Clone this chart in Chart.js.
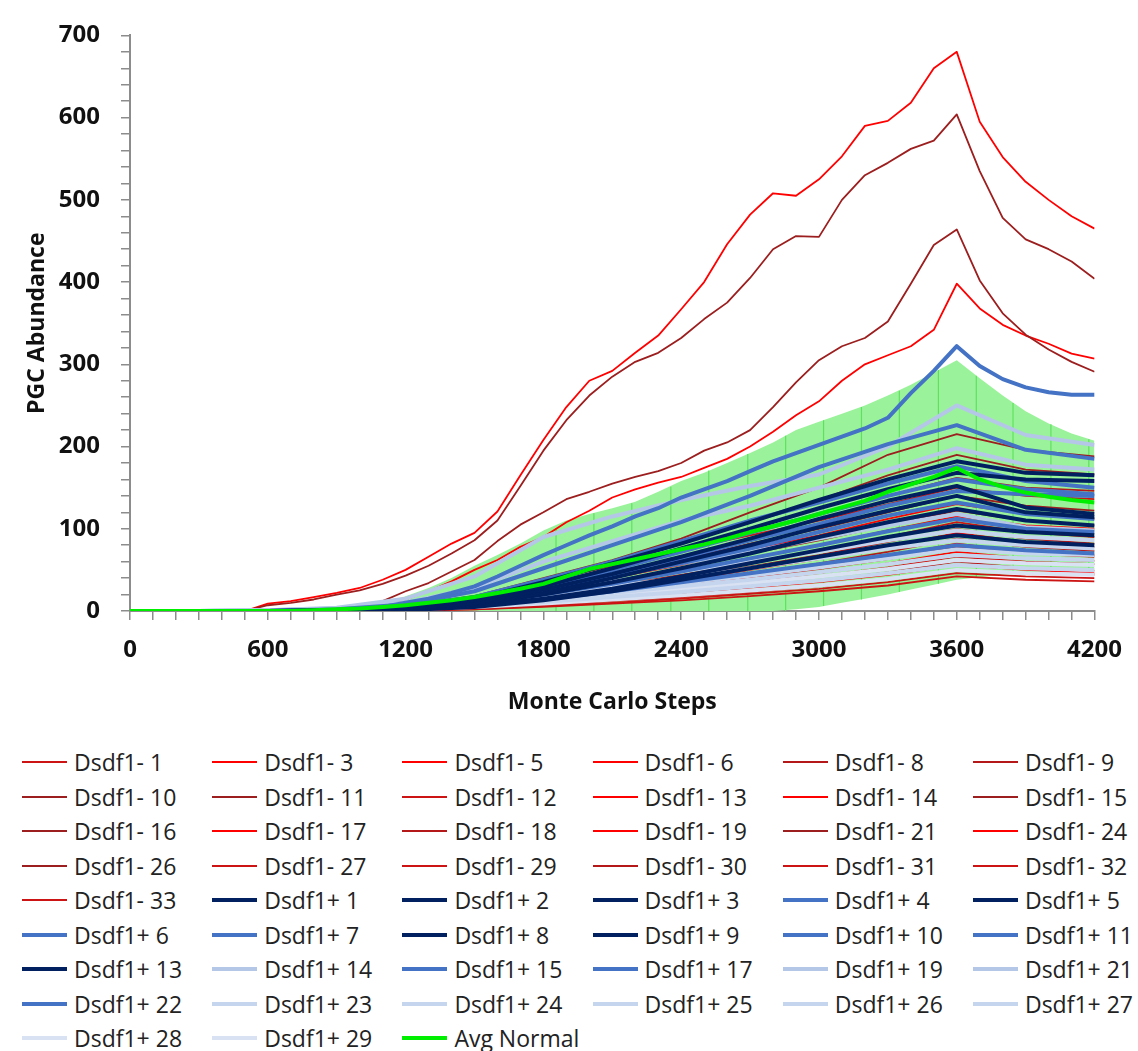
<!DOCTYPE html>
<html>
<head>
<meta charset="utf-8">
<script src="https://cdn.jsdelivr.net/npm/chart.js@4.4.0/dist/chart.umd.min.js"></script>
<style>
  body { margin: 0; background: #fff; }
  #wrap { position: relative; width: 1138px; height: 1051px; }
  #chart { position: absolute; left: 0; top: 0; }
  #legend {
    position: absolute; left: 22px; top: 745px;
    display: grid; grid-template-columns: repeat(6, 190.2px); grid-auto-rows: 34.5px;
    font-family: 'Open Sans', sans-serif; font-size: 23px; color: #222;
  }
  .item { display: flex; align-items: center; white-space: pre; }
  .swatch { width: 45px; margin-right: 7px; }
</style>
</head>
<body>
<div id="wrap">
  <canvas id="chart" width="1138" height="730" style="width:1138px;height:730px"></canvas>
  <div id="legend"></div>
</div>
<script>
// Monte Carlo steps (fine grid for the lines that stand out, coarse grid for the bundle)
const steps = [0,100,200,300,400,500,600,700,800,900,1000,1100,1200,1300,1400,1500,1600,1700,1800,1900,2000,
  2100,2200,2300,2400,2500,2600,2700,2800,2900,3000,3100,3200,3300,3400,3500,3600,3700,3800,3900,4000,4100,4200];
const stepsCoarse = [0,300,600,900,1200,1500,1800,2100,2400,2700,3000,3300,3600,3900,4200];

// top lines, read on the fine grid
const neg17 = [0,0,0,0,0,0,9,12,17,22,28,38,50,66,82,95,121,165,208,248,280,292,314,335,367,400,446,482,508,505,525,553,590,596,618,660,680,595,552,522,500,480,465];
const neg10 = [0,0,0,0,0,0,7,10,14,20,25,33,43,55,70,86,110,152,195,232,262,285,303,314,332,355,375,405,440,456,455,500,530,545,562,572,604,535,478,452,440,425,404];
const neg16 = [0,0,0,0,0,0,0,0,0,0,3,12,24,34,48,62,85,105,120,136,145,155,163,170,180,195,205,220,248,278,305,322,332,352,398,445,464,402,362,336,318,303,291];
const neg19 = [0,0,0,0,0,0,0,0,0,0,0,5,14,24,36,50,62,78,90,108,122,138,148,156,163,174,185,200,218,238,255,280,300,311,322,342,398,368,348,335,325,313,307];
const pos4  = [0,0,0,0,0,0,0,0,0,0,2,5,10,15,22,30,42,55,68,80,92,103,115,125,138,148,158,170,182,192,202,212,222,235,265,292,322,298,282,272,266,263,263];
const avgNormal = [0,0,0,0,0,0,0,0,1,2,3,5,7,10,13,17,22,27,33,42,51,57,63,69,75,81,88,96,103,110,118,126,134,145,154,163,174,160,151,144,139,135,132];
const avgUpper  = [0,0,0,0,0,0,0,0,2,4,6,10,18,28,40,55,68,82,98,110,118,125,133,145,158,168,180,192,205,220,230,240,250,262,275,290,305,283,262,243,228,216,207];
const avgLower  = [0,0,0,0,0,0,0,0,0,0,0,0,0,0,0,0,0,0,0,0,0,0,0,0,0,0,0,0,0,2,5,10,15,20,26,32,38,41,44,46,48,50,51];

// error bars of Avg Normal
const errSteps = [1855,2020,2185,2355,2520,2690,2855,3020,3185,3350,3520,3685,3845,4010,4175];
const errHigh  = [100,119,131,151,171,191,213,232,248,268,293,286,253,227,209];
const errLow   = [0,0,0,0,0,0,0,6,14,23,33,40,45,48,51];

// the bundle, read on the coarse grid
const neg1  = [0,0,0,2,7,18,36,55,74,92,110,130,150,140,136];
const neg3  = [0,0,0,1,4,11,24,40,56,74,92,112,130,118,112];
const neg5  = [0,0,0,1,3,9,20,33,48,64,80,98,115,104,100];
const neg6  = [0,0,0,0,2,6,14,25,37,50,63,78,95,84,78];
const neg8  = [0,0,0,1,4,14,32,52,74,96,118,140,162,150,146];
const neg9  = [0,0,0,1,2,6,14,24,34,46,58,72,88,78,73];
const neg11 = [0,0,0,2,6,18,40,62,88,120,150,190,215,196,188];
const neg12 = [0,0,0,0,2,7,17,30,44,58,74,90,108,96,90];
const neg13 = [0,0,0,0,1,4,11,20,30,42,54,67,82,72,68];
const neg14 = [0,0,0,0,1,4,10,18,27,36,46,58,72,64,61];
const neg15 = [0,0,0,0,3,10,25,42,62,82,100,120,140,128,122];
const neg18 = [0,0,0,0,1,3,8,14,21,29,37,47,60,52,49];
const neg21 = [0,0,0,1,5,15,35,58,82,108,135,165,190,172,166];
const neg24 = [0,0,0,0,1,4,9,15,21,28,35,44,56,50,46];
const neg26 = [0,0,0,0,2,8,20,35,52,70,86,104,122,110,104];
const neg27 = [0,0,0,1,3,7,14,22,31,41,51,63,78,70,66];
const neg29 = [0,0,0,0,1,3,7,12,17,23,30,39,50,46,44];
const neg30 = [0,0,0,1,3,8,18,29,41,54,68,84,100,88,82];
const neg31 = [0,0,0,1,2,5,11,17,25,33,42,53,66,60,57];
const neg32 = [0,0,0,0,1,2,6,10,15,21,27,35,46,42,40];
const neg33 = [0,0,0,0,0,2,5,9,13,18,24,31,42,38,36];

const pos1  = [0,0,0,1,5,15,35,58,82,108,135,160,182,168,165];
const pos2  = [0,0,0,1,4,13,30,52,76,100,125,148,168,160,158];
const pos3  = [0,0,0,0,3,10,26,45,66,88,112,134,152,126,118];
const pos5  = [0,0,0,0,3,9,22,40,60,80,102,122,140,120,114];
const pos6  = [0,0,0,2,8,24,52,80,108,140,175,203,226,196,185];
const pos7  = [0,0,0,1,6,17,38,60,85,110,132,155,176,158,150];
const pos8  = [0,0,0,0,2,8,20,35,52,70,90,108,124,110,104];
const pos9  = [0,0,0,0,2,6,15,27,42,58,74,90,104,96,92];
const pos10 = [0,0,0,1,5,14,32,50,72,95,118,140,160,148,142];
const pos11 = [0,0,0,1,4,12,28,46,64,86,106,128,146,142,140];
const pos13 = [0,0,0,0,1,5,13,24,38,52,66,80,92,84,80];
const pos14 = [0,0,1,4,15,42,90,115,135,152,166,200,250,214,202];
const pos15 = [0,0,0,1,4,11,25,42,58,76,96,116,132,118,112];
const pos17 = [0,0,0,1,3,9,20,33,48,64,80,97,112,100,96];
const pos19 = [0,0,1,3,10,28,60,85,110,128,150,172,198,178,172];
const pos21 = [0,0,1,2,6,15,30,44,58,72,88,104,118,102,98];
const pos22 = [0,0,0,0,2,6,14,24,35,46,57,68,80,74,70];
const pos23 = [0,0,1,2,5,12,24,36,48,60,72,86,98,90,86];
const pos24 = [0,0,1,2,4,10,20,30,40,52,64,76,86,80,76];
const pos25 = [0,0,0,1,3,8,16,25,34,43,53,64,75,70,68];
const pos26 = [0,0,0,1,3,7,14,22,30,38,47,57,68,64,62];
const pos27 = [0,0,0,1,2,6,11,17,23,30,37,46,56,52,50];
const pos28 = [0,0,1,2,4,8,14,20,27,34,42,51,62,58,56];
const pos29 = [0,0,0,1,2,5,9,14,19,25,31,39,50,46,44];

// legend order, as in the figure
const legendNames = [
  'Dsdf1- 1','Dsdf1- 3','Dsdf1- 5','Dsdf1- 6','Dsdf1- 8','Dsdf1- 9',
  'Dsdf1- 10','Dsdf1- 11','Dsdf1- 12','Dsdf1- 13','Dsdf1- 14','Dsdf1- 15',
  'Dsdf1- 16','Dsdf1- 17','Dsdf1- 18','Dsdf1- 19','Dsdf1- 21','Dsdf1- 24',
  'Dsdf1- 26','Dsdf1- 27','Dsdf1- 29','Dsdf1- 30','Dsdf1- 31','Dsdf1- 32',
  'Dsdf1- 33','Dsdf1+ 1','Dsdf1+ 2','Dsdf1+ 3','Dsdf1+ 4','Dsdf1+ 5',
  'Dsdf1+ 6','Dsdf1+ 7','Dsdf1+ 8','Dsdf1+ 9','Dsdf1+ 10','Dsdf1+ 11',
  'Dsdf1+ 13','Dsdf1+ 14','Dsdf1+ 15','Dsdf1+ 17','Dsdf1+ 19','Dsdf1+ 21',
  'Dsdf1+ 22','Dsdf1+ 23','Dsdf1+ 24','Dsdf1+ 25','Dsdf1+ 26','Dsdf1+ 27',
  'Dsdf1+ 28','Dsdf1+ 29','Avg Normal'
];

// name -> [x grid, values]
const seriesData = {
  'Dsdf1- 1': [stepsCoarse, neg1], 'Dsdf1- 3': [stepsCoarse, neg3], 'Dsdf1- 5': [stepsCoarse, neg5],
  'Dsdf1- 6': [stepsCoarse, neg6], 'Dsdf1- 8': [stepsCoarse, neg8], 'Dsdf1- 9': [stepsCoarse, neg9],
  'Dsdf1- 10': [steps, neg10], 'Dsdf1- 11': [stepsCoarse, neg11], 'Dsdf1- 12': [stepsCoarse, neg12],
  'Dsdf1- 13': [stepsCoarse, neg13], 'Dsdf1- 14': [stepsCoarse, neg14], 'Dsdf1- 15': [stepsCoarse, neg15],
  'Dsdf1- 16': [steps, neg16], 'Dsdf1- 17': [steps, neg17], 'Dsdf1- 18': [stepsCoarse, neg18],
  'Dsdf1- 19': [steps, neg19], 'Dsdf1- 21': [stepsCoarse, neg21], 'Dsdf1- 24': [stepsCoarse, neg24],
  'Dsdf1- 26': [stepsCoarse, neg26], 'Dsdf1- 27': [stepsCoarse, neg27], 'Dsdf1- 29': [stepsCoarse, neg29],
  'Dsdf1- 30': [stepsCoarse, neg30], 'Dsdf1- 31': [stepsCoarse, neg31], 'Dsdf1- 32': [stepsCoarse, neg32],
  'Dsdf1- 33': [stepsCoarse, neg33],
  'Dsdf1+ 1': [stepsCoarse, pos1], 'Dsdf1+ 2': [stepsCoarse, pos2], 'Dsdf1+ 3': [stepsCoarse, pos3],
  'Dsdf1+ 4': [steps, pos4], 'Dsdf1+ 5': [stepsCoarse, pos5], 'Dsdf1+ 6': [stepsCoarse, pos6],
  'Dsdf1+ 7': [stepsCoarse, pos7], 'Dsdf1+ 8': [stepsCoarse, pos8], 'Dsdf1+ 9': [stepsCoarse, pos9],
  'Dsdf1+ 10': [stepsCoarse, pos10], 'Dsdf1+ 11': [stepsCoarse, pos11], 'Dsdf1+ 13': [stepsCoarse, pos13],
  'Dsdf1+ 14': [stepsCoarse, pos14], 'Dsdf1+ 15': [stepsCoarse, pos15], 'Dsdf1+ 17': [stepsCoarse, pos17],
  'Dsdf1+ 19': [stepsCoarse, pos19], 'Dsdf1+ 21': [stepsCoarse, pos21], 'Dsdf1+ 22': [stepsCoarse, pos22],
  'Dsdf1+ 23': [stepsCoarse, pos23], 'Dsdf1+ 24': [stepsCoarse, pos24], 'Dsdf1+ 25': [stepsCoarse, pos25],
  'Dsdf1+ 26': [stepsCoarse, pos26], 'Dsdf1+ 27': [stepsCoarse, pos27], 'Dsdf1+ 28': [stepsCoarse, pos28],
  'Dsdf1+ 29': [stepsCoarse, pos29], 'Avg Normal': [steps, avgNormal]
};

// colours
const BRIGHT = '#ff0000', MED = '#cc1414', MEDDARK = '#b41818', DARK = '#9c1e1e';
const NAVY = '#002060', MID = '#4472c4', LIGHT = '#b4c7e7', LIGHTER = '#c6d5ee', LIGHTEST = '#d9e2f3';
const GREEN = '#00ee00';
const seriesColor = {
  'Dsdf1- 1': MED, 'Dsdf1- 3': BRIGHT, 'Dsdf1- 5': BRIGHT, 'Dsdf1- 6': BRIGHT, 'Dsdf1- 8': MEDDARK, 'Dsdf1- 9': MEDDARK,
  'Dsdf1- 10': DARK, 'Dsdf1- 11': DARK, 'Dsdf1- 12': MED, 'Dsdf1- 13': BRIGHT, 'Dsdf1- 14': BRIGHT, 'Dsdf1- 15': DARK,
  'Dsdf1- 16': DARK, 'Dsdf1- 17': BRIGHT, 'Dsdf1- 18': MEDDARK, 'Dsdf1- 19': BRIGHT, 'Dsdf1- 21': DARK, 'Dsdf1- 24': BRIGHT,
  'Dsdf1- 26': DARK, 'Dsdf1- 27': MED, 'Dsdf1- 29': MED, 'Dsdf1- 30': MEDDARK, 'Dsdf1- 31': MED, 'Dsdf1- 32': MED,
  'Dsdf1- 33': MED, 'Dsdf1+ 1': NAVY, 'Dsdf1+ 2': NAVY, 'Dsdf1+ 3': NAVY, 'Dsdf1+ 4': MID, 'Dsdf1+ 5': NAVY,
  'Dsdf1+ 6': MID, 'Dsdf1+ 7': MID, 'Dsdf1+ 8': NAVY, 'Dsdf1+ 9': NAVY, 'Dsdf1+ 10': MID, 'Dsdf1+ 11': MID,
  'Dsdf1+ 13': NAVY, 'Dsdf1+ 14': LIGHT, 'Dsdf1+ 15': MID, 'Dsdf1+ 17': MID, 'Dsdf1+ 19': LIGHT, 'Dsdf1+ 21': LIGHT,
  'Dsdf1+ 22': MID, 'Dsdf1+ 23': LIGHTER, 'Dsdf1+ 24': LIGHTER, 'Dsdf1+ 25': LIGHTER, 'Dsdf1+ 26': LIGHTER, 'Dsdf1+ 27': LIGHTER,
  'Dsdf1+ 28': LIGHTEST, 'Dsdf1+ 29': LIGHTEST, 'Avg Normal': GREEN
};

const toPoints = (xs, ys) => ys.map((y, i) => ({ x: xs[i], y: y }));
const isRed = name => name.indexOf('Dsdf1-') === 0;
const lineWidth = name => isRed(name) ? 1.8 : 4;

// error bar segments, separated by gaps
const errPoints = [];
errSteps.forEach((s, i) => {
  errPoints.push({ x: s, y: errLow[i] }, { x: s, y: errHigh[i] }, { x: s, y: null });
});

const datasets = [
  { label: 'band low', data: toPoints(steps, avgLower), borderColor: 'rgba(0,0,0,0)', borderWidth: 0, fill: false, order: 5 },
  { label: 'band high', data: toPoints(steps, avgUpper), borderColor: 'rgba(0,0,0,0)', borderWidth: 0,
    fill: '-1', backgroundColor: 'rgb(154,243,154)', order: 5 },
  { label: 'err', data: errPoints, borderColor: '#5fe05f', borderWidth: 1.2, spanGaps: false, fill: false, order: 4 }
];
legendNames.forEach(name => {
  const [xs, ys] = seriesData[name];
  let order = isRed(name) ? 3 : 2;
  if (name === 'Avg Normal') order = 1;
  datasets.push({
    label: name,
    data: toPoints(xs, ys),
    borderColor: seriesColor[name],
    borderWidth: lineWidth(name),
    borderJoinStyle: 'round',
    fill: false,
    order: order
  });
});

const tickFont = { family: "'Open Sans', sans-serif", size: 24, weight: 'bold' };
const titleFont = { family: "'Open Sans', sans-serif", size: 23, weight: 'bold' };
const axisGray = '#8c8c8c';

const ctx = document.getElementById('chart').getContext('2d');
const chart = new Chart(ctx, {
  type: 'line',
  data: { datasets: datasets },
  options: {
    responsive: false,
    animation: false,
    devicePixelRatio: 1,
    layout: { padding: { top: 24, right: 34, left: 0, bottom: 0 } },
    elements: { point: { radius: 0, hoverRadius: 0 }, line: { tension: 0 } },
    plugins: { legend: { display: false }, tooltip: { enabled: false } },
    scales: {
      x: {
        type: 'linear', min: 0, max: 4200,
        afterFit: s => { s.height = 119; },
        border: { color: axisGray, width: 2 },
        grid: { drawOnChartArea: false, drawTicks: true, tickLength: 9, color: axisGray, lineWidth: 1.5 },
        ticks: {
          stepSize: 100, autoSkip: false, maxRotation: 0, padding: 16, color: '#111', font: tickFont,
          callback: v => (v % 600 === 0 ? String(v) : '')
        },
        title: { display: true, text: 'Monte Carlo Steps', color: '#111', font: titleFont, padding: { top: 0, bottom: 14 } }
      },
      y: {
        min: 0, max: 700,
        afterFit: s => { s.width = 130; },
        border: { color: axisGray, width: 2 },
        grid: { drawOnChartArea: false, drawTicks: true, tickLength: 9, color: axisGray, lineWidth: 1.5 },
        ticks: {
          stepSize: 20, autoSkip: false, padding: 21, color: '#111', font: tickFont,
          callback: v => (v % 100 === 0 ? String(v) : '')
        },
        title: { display: true, text: 'PGC Abundance', color: '#111', font: titleFont, padding: { top: 24, bottom: 0 } }
      }
    }
  }
});

// legend in 6 columns, like the figure
const legendEl = document.getElementById('legend');
legendNames.forEach(name => {
  const item = document.createElement('div');
  item.className = 'item';
  const sw = document.createElement('span');
  sw.className = 'swatch';
  sw.style.height = (isRed(name) ? 2 : 4) + 'px';
  sw.style.background = seriesColor[name];
  const txt = document.createElement('span');
  txt.textContent = name;
  item.appendChild(sw);
  item.appendChild(txt);
  legendEl.appendChild(item);
});
</script>
</body>
</html>
